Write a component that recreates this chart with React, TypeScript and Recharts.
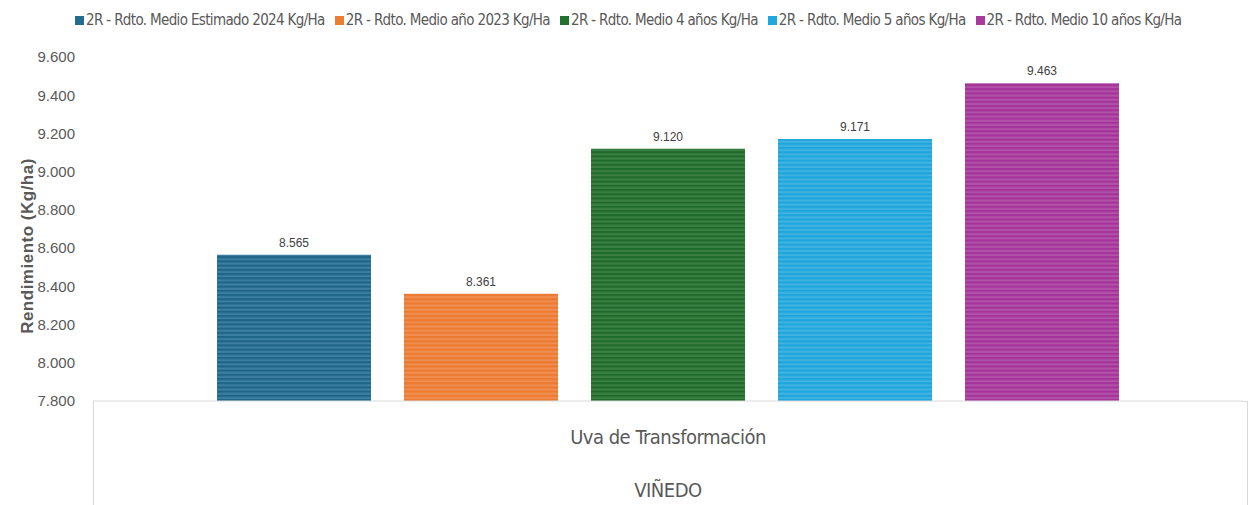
import React from "react";
import { BarChart, Bar, XAxis, YAxis, Legend, LabelList } from "recharts";

const categories = ["Uva de Transformación"];
const groups = ["VIÑEDO"];
const seriesKeys = ["s2024", "s2023", "s4", "s5", "s10"];
const seriesNames = [
  "2R - Rdto. Medio Estimado 2024 Kg/Ha",
  "2R - Rdto. Medio año 2023 Kg/Ha",
  "2R - Rdto. Medio 4 años Kg/Ha",
  "2R - Rdto. Medio 5 años Kg/Ha",
  "2R - Rdto. Medio 10 años Kg/Ha",
];
const s2024 = [8565];
const s2023 = [8361];
const s4 = [9120];
const s5 = [9171];
const s10 = [9463];
const yTicks = [7800, 8000, 8200, 8400, 8600, 8800, 9000, 9200, 9400, 9600];

const seriesValues = [s2024, s2023, s4, s5, s10];
const colors = [
  { dark: "#1f6588", light: "#3d7fa1", legend: "#236b8f" },
  { dark: "#ec7a30", light: "#ef8e52", legend: "#ed7d31" },
  { dark: "#1f6a2a", light: "#3b7f45", legend: "#23712f" },
  { dark: "#1ea5db", light: "#3fb2e0", legend: "#21a7dc" },
  { dark: "#a4339a", light: "#b251a8", legend: "#a83a9e" },
];

const data = categories.map((c, i) => {
  const row: any = { cat: c, group: groups[i] };
  seriesKeys.forEach((k, j) => (row[k] = seriesValues[j][i]));
  return row;
});

const fmt = (v: number) => {
  const s = Math.round(v).toString();
  return s.replace(/\B(?=(\d{3})+(?!\d))/g, ".");
};

const NARROW = '"Liberation Sans Narrow", "DejaVu Sans Condensed", "Arial Narrow", sans-serif';
const ARIAL = '"Liberation Sans", Arial, sans-serif';

const LegendContent = () => (
  <div
    style={{
      display: "flex",
      alignItems: "center",
      paddingLeft: 75,
      fontFamily: NARROW,
      fontSize: 15,
      letterSpacing: -0.65,
      color: "#595959",
      height: 24,
      whiteSpace: "nowrap",
    }}
  >
    {seriesNames.map((n, i) => (
      <span key={n} style={{ display: "flex", alignItems: "center", marginRight: 10 }}>
        <span
          style={{
            display: "inline-block",
            width: 9,
            height: 9,
            background: colors[i].legend,
            marginRight: 2,
          }}
        />
        {n}
      </span>
    ))}
  </div>
);

const YLabel = (props: any) => {
  const { viewBox } = props;
  const cx = 27;
  const cy = viewBox.y + viewBox.height / 2 + 17;
  return (
    <text
      x={cx}
      y={cy}
      transform={`rotate(-90 ${cx} ${cy})`}
      textAnchor="middle"
      dominantBaseline="central"
      fill="#595959"
      fontSize={17}
      letterSpacing={0.5}
      fontWeight="bold"
      fontFamily={ARIAL}
    >
      Rendimiento (Kg/ha)
    </text>
  );
};

const XTick = (props: any) => {
  const { x, y, width, payload, index } = props;
  const left = x - width / 2;
  const right = x + width / 2;
  const grp = groups[index] ?? data[index]?.group;
  return (
    <g>
      <line x1={left + 0.5} y1={y} x2={left + 0.5} y2={y + 110} stroke="#d9d9d9" />
      <line x1={right + 4.5} y1={y} x2={right + 4.5} y2={y + 110} stroke="#d9d9d9" />
      <line x1={right} y1={y + 0.5} x2={right + 5} y2={y + 0.5} stroke="#d9d9d9" />
      <text
        x={x}
        y={y + 43}
        textAnchor="middle"
        fontFamily={NARROW}
        fontSize={20}
        letterSpacing={-0.5}
        fill="#595959"
      >
        {payload.value}
      </text>
      <text
        x={x}
        y={y + 96}
        textAnchor="middle"
        fontFamily={NARROW}
        fontSize={20}
        letterSpacing={-0.5}
        fill="#595959"
      >
        {grp}
      </text>
    </g>
  );
};

export default function App() {
  return (
    <div style={{ position: "absolute", left: 0, top: 0, background: "#fff" }}>
      <BarChart
        width={1251}
        height={505}
        data={data}
        margin={{ top: 33, right: 8, bottom: 0, left: 0 }}
        barSize={154}
        barGap={33}
      >
        <defs>
          {colors.map((c, i) => (
            <pattern
              key={i}
              id={`stripe${i}`}
              width={8}
              height={4.2}
              patternUnits="userSpaceOnUse"
            >
              <rect x={0} y={0} width={8} height={4.2} fill={c.dark} />
              <rect x={0} y={2.1} width={8} height={2.1} fill={c.light} />
            </pattern>
          ))}
        </defs>
        <Legend
          verticalAlign="top"
          align="left"
          content={<LegendContent />}
          wrapperStyle={{ top: 8, left: 0, height: 24, width: 1251 }}
        />
        <XAxis
          dataKey="cat"
          height={104}
          tickLine={false}
          tickSize={0}
          tickMargin={0}
          axisLine={{ stroke: "#d9d9d9" }}
          tick={<XTick />}
          interval={0}
        />
        <YAxis
          width={93}
          domain={[7800, 9600]}
          ticks={yTicks}
          tickFormatter={fmt}
          axisLine={false}
          tickLine={false}
          tickSize={0}
          tickMargin={18}
          tick={{ fill: "#595959", fontSize: 15, fontFamily: ARIAL }}
          allowDataOverflow
          label={<YLabel />}
        />
        {seriesKeys.map((k, i) => (
          <Bar
            key={k}
            dataKey={k}
            name={seriesNames[i]}
            fill={`url(#stripe${i})`}
            isAnimationActive={false}
          >
            <LabelList
              dataKey={k}
              position="top"
              offset={8}
              formatter={(v: any) => fmt(Number(v))}
              style={{ fill: "#404040", fontSize: 12, fontFamily: ARIAL }}
            />
          </Bar>
        ))}
      </BarChart>
    </div>
  );
}
